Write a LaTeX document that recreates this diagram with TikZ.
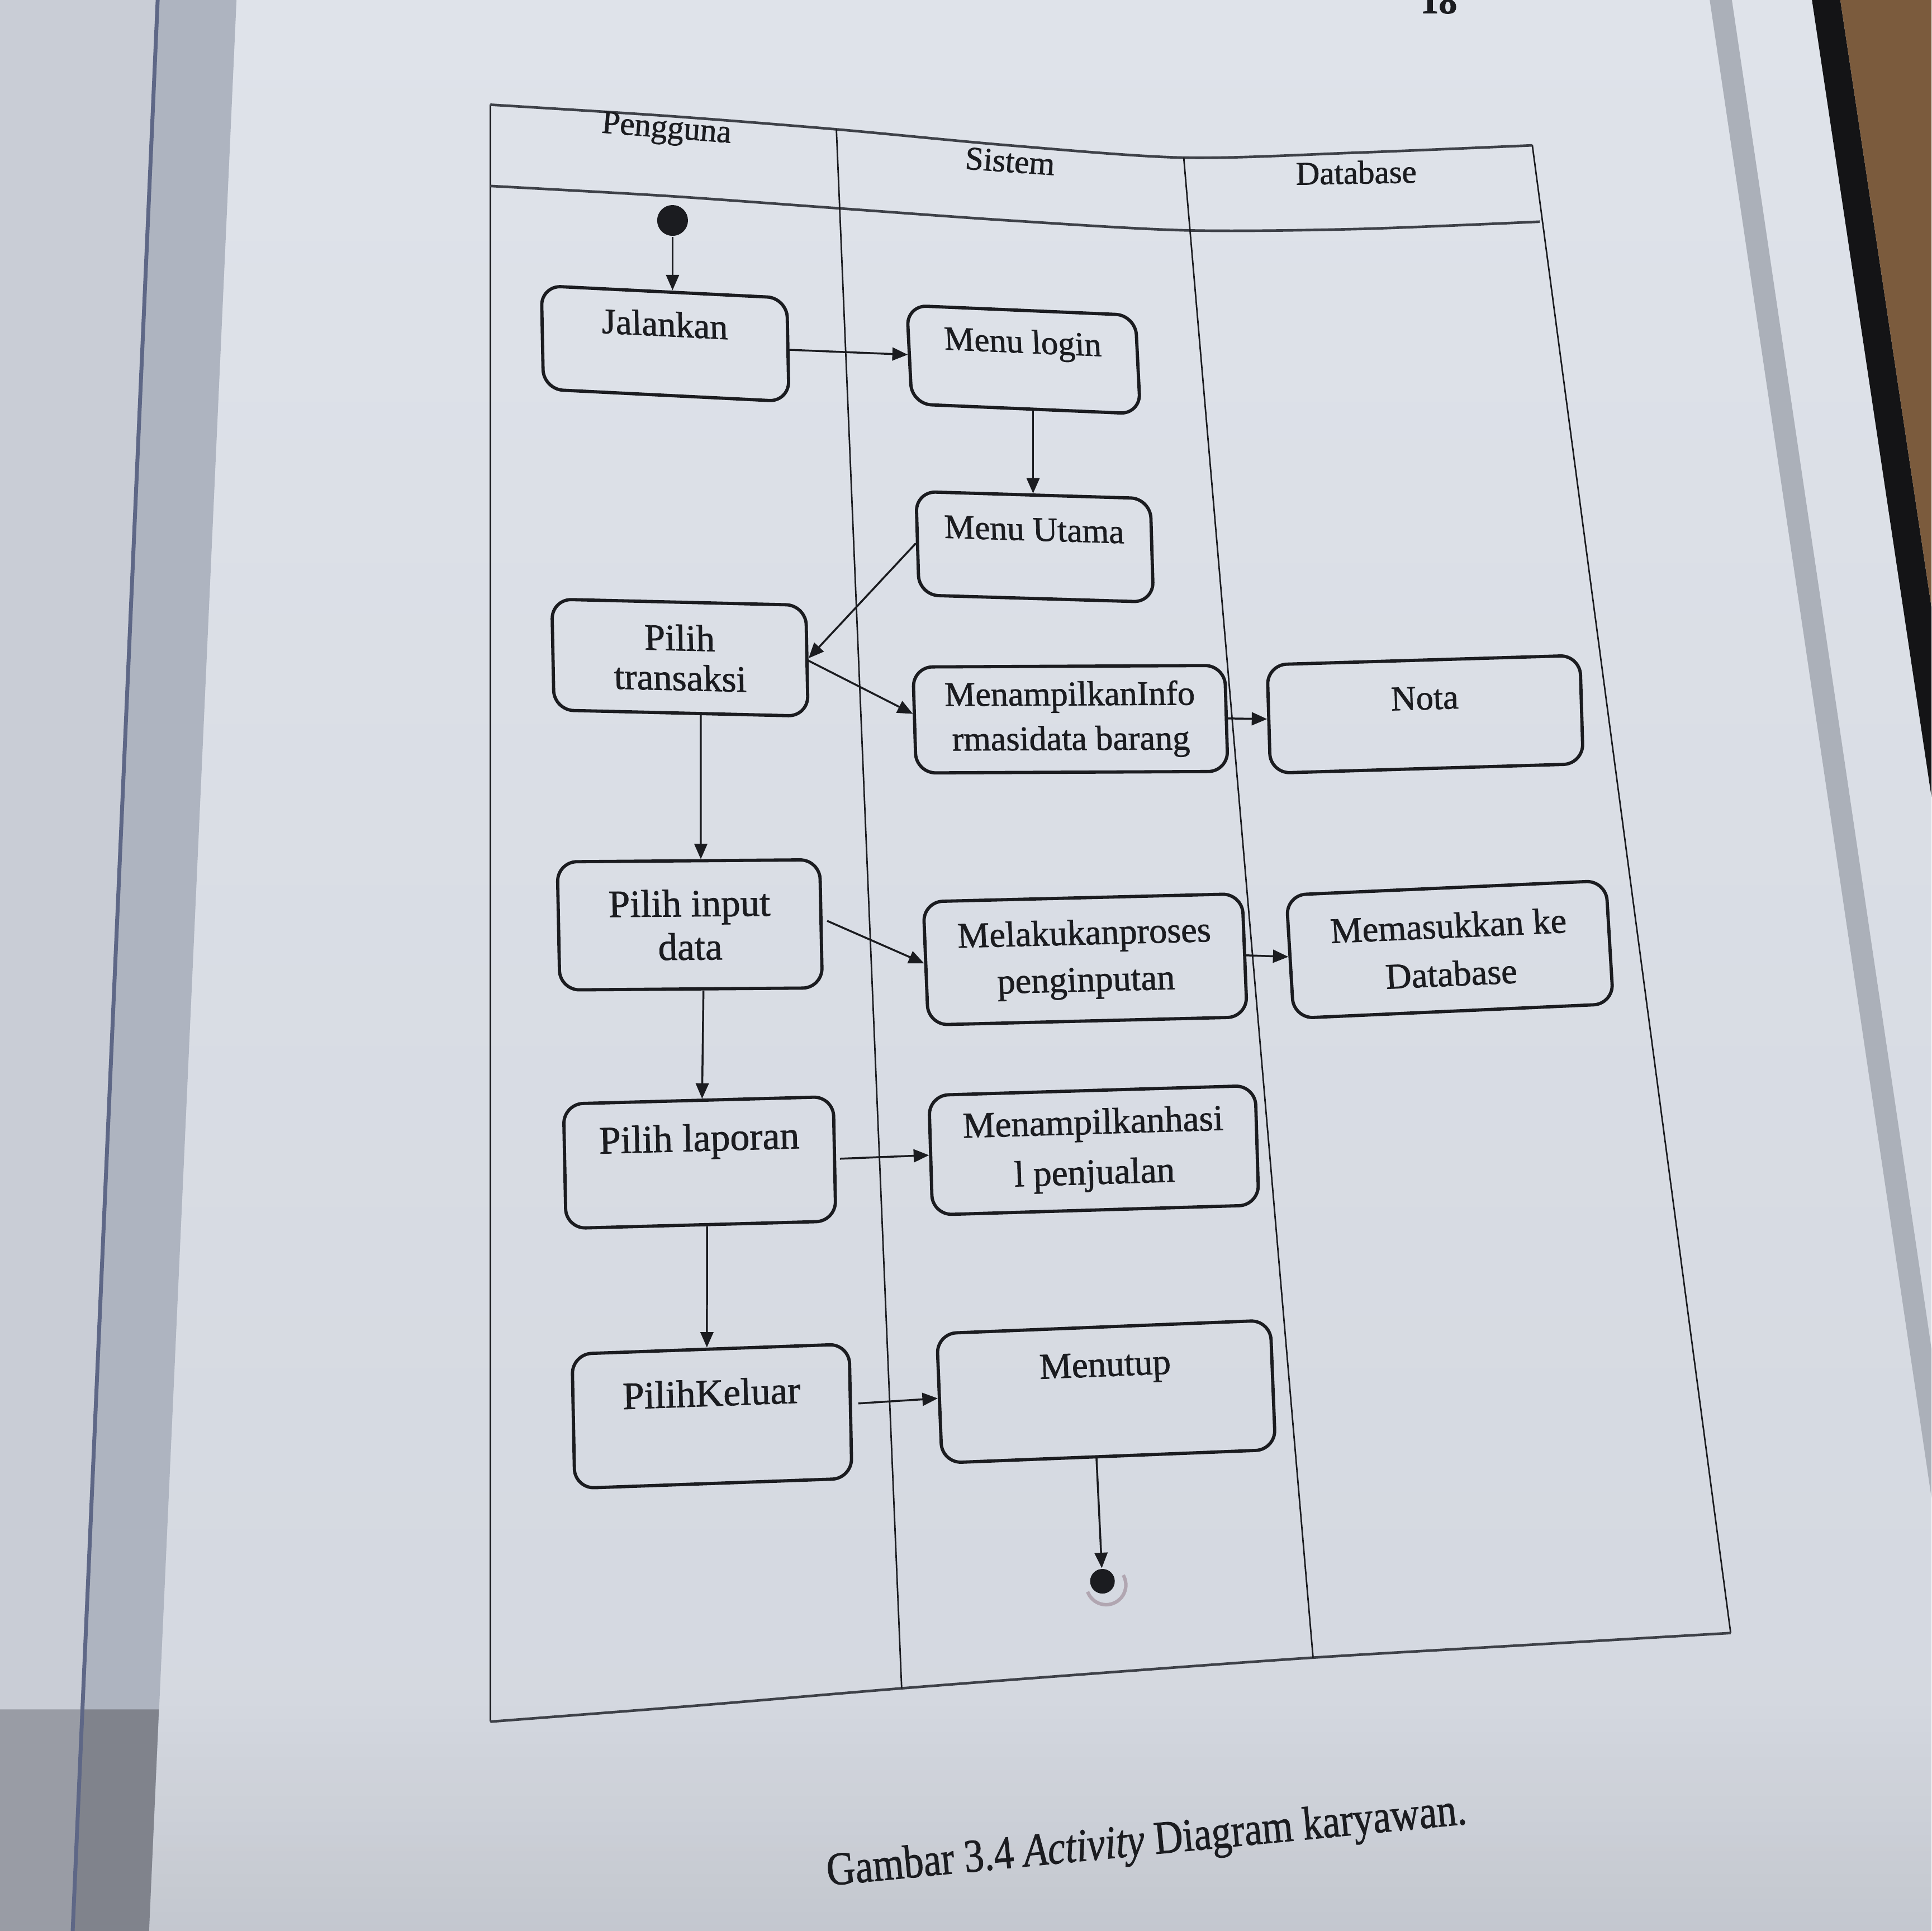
\documentclass[tikz,border=0pt]{standalone}
\usepackage{fontspec}
\setmainfont{Liberation Serif}
\newfontfamily\printfont{Liberation Serif}[FakeBold=1.2]
\usetikzlibrary{arrows.meta,fadings}
\definecolor{ink}{HTML}{1B1C20}
\definecolor{papertop}{HTML}{DFE3EA}
\definecolor{paperbot}{HTML}{D3D7DF}
\definecolor{leftpage}{HTML}{C9CDD6}
\definecolor{gutter}{HTML}{AEB4C0}
\definecolor{gutterline}{HTML}{5E6786}
\definecolor{leftshadow}{HTML}{999CA5}
\definecolor{guttershadow}{HTML}{80838C}
\definecolor{edgeband}{HTML}{ABB0B9}
\definecolor{cover}{HTML}{141416}
\definecolor{wood}{HTML}{7B5B3D}
\definecolor{rulegrey}{HTML}{3E4148}
\definecolor{ringtone}{HTML}{A89AA6}
\newcommand\boxfont[2]{\printfont\fontsize{#1pt}{#2pt}\selectfont}
\newcommand\liftlabel[2]{\raisebox{#1}[\height][\depth]{#2}}

\begin{document}
\begin{tikzpicture}[x=0.01cm, y=-0.01cm,
  act/.style={draw=ink, line width=0.75pt, rounded corners=0.16cm, align=center, inner sep=0pt, text=ink},
  flow/.style={draw=ink, line width=0.45pt, -{Triangle[length=1.25mm,width=1.05mm]}},
  lane/.style={draw=ink, line width=0.35pt},
  hline/.style={draw=rulegrey, line width=0.6pt},
  hdrtext/.style={text=ink, font=\boxfont{7.6}{9}},
  dot/.style={circle, fill=ink, inner sep=0pt},
]
\useasboundingbox (0,0) rectangle (1568,1568);
\clip (0,0) rectangle (1568,1568);

% paper, neighbouring page and book edge
\shade[top color=papertop, bottom color=paperbot] (0,0) rectangle (1568,1568);
\fill[black, opacity=0.07, path fading=north] (0,1380) rectangle (1568,1568);
\fill[leftpage] (0,0) -- (128,0) -- (59,1568) -- (0,1568) -- cycle;
\fill[gutter] (128,0) -- (192,0) -- (121,1568) -- (59,1568) -- cycle;
\fill[leftshadow] (0,1388) -- (67,1388) -- (59,1568) -- (0,1568) -- cycle;
\fill[guttershadow] (67,1388) -- (129,1388) -- (121,1568) -- (59,1568) -- cycle;
\draw[gutterline, line width=0.9pt] (128,0) -- (59,1568);
\fill[edgeband] (1388,0) -- (1406,0) -- (1568,1095) -- (1568,1216) -- cycle;
\fill[cover] (1471,0) -- (1494,0) -- (1568,493) -- (1568,647) -- cycle;
\fill[wood] (1494,0) -- (1568,0) -- (1568,493) -- cycle;

\node[text=ink, font=\boxfont{8.5}{9}\bfseries] (pagenum) at (1168,1) {18};

% swimlane frame
\draw[lane] (398,85) -- (398,1398);
\draw[lane] (1244,118) -- (1405,1326);
\draw[hline] plot[smooth] coordinates {(398,85) (540,94) (679,105) (819,118) (961,128) (1100,124) (1244,118)};
\draw[hline] plot[smooth] coordinates {(398,151) (540,159) (679,169) (819,179) (962,187) (1100,186) (1250,180)};
\draw[hline] plot[smooth] coordinates {(398,1398) (565,1385) (731,1371) (900,1358) (1066,1346) (1235,1336) (1405,1326)};
\draw[lane] (679,105) -- (732,1371);
\draw[lane] (961,128) -- (1066,1346);

\node[hdrtext, rotate=-4.5] (hpeng) at (541,106) {Pengguna};
\node[hdrtext, rotate=-4] (hsis) at (820,131) {Sistem};
\node[hdrtext, rotate=1] (hdb) at (1101,140) {Database};

% activities
\node[dot, minimum size=0.25cm] (start) at (546,179) {};
\node[act, minimum width=1.99cm, minimum height=0.84cm, xslant=-0.02, yslant=-0.05, font=\boxfont{8.3}{10}] (jal) at (540,279) {\liftlabel{0.16cm}{Jalankan}};
\node[act, minimum width=1.85cm, minimum height=0.80cm, xslant=-0.05, yslant=-0.043, font=\boxfont{7.8}{9.5}] (ml) at (831,292) {\liftlabel{0.12cm}{Menu login}};
\node[act, minimum width=1.90cm, minimum height=0.84cm, xslant=-0.03, yslant=-0.03, font=\boxfont{7.9}{9.5}] (mu) at (840,444) {\liftlabel{0.14cm}{Menu Utama}};
\node[act, minimum width=2.06cm, minimum height=0.90cm, xslant=-0.02, yslant=-0.024, font=\boxfont{8.6}{9.2}] (pt) at (552,534) {Pilih\\transaksi};
\node[act, minimum width=2.53cm, minimum height=0.86cm, xslant=-0.03, yslant=0.005, font=\boxfont{8.0}{10.3}] (mi) at (869,584) {MenampilkanInfo\\rmasidata barang};
\node[act, minimum width=2.54cm, minimum height=0.88cm, xslant=-0.03, yslant=0.03, font=\boxfont{8.0}{9.5}] (nota) at (1157,580) {\liftlabel{0.13cm}{Nota}};
\node[act, minimum width=2.13cm, minimum height=1.04cm, xslant=-0.02, yslant=0.008, font=\boxfont{8.9}{10}] (pi) at (560,751) {Pilih input\\data};
\node[act, minimum width=2.59cm, minimum height=1.00cm, xslant=-0.04, yslant=0.025, font=\boxfont{8.3}{10.8}] (mp) at (881,779) {Melakukanproses\\penginputan};
\node[act, minimum width=2.60cm, minimum height=1.00cm, xslant=-0.06, yslant=0.045, font=\boxfont{8.3}{11.1}] (md) at (1177,771) {Memasukkan ke\\Database};
\node[act, minimum width=2.19cm, minimum height=1.01cm, xslant=-0.02, yslant=0.027, font=\boxfont{9.0}{10}] (pl) at (568,944) {\liftlabel{0.17cm}{Pilih laporan}};
\node[act, minimum width=2.65cm, minimum height=0.97cm, xslant=-0.03, yslant=0.03, font=\boxfont{8.4}{11.6}] (mh) at (888,934) {Menampilkanhasi\\l penjualan};
\node[act, minimum width=2.25cm, minimum height=1.09cm, xslant=-0.02, yslant=0.036, font=\boxfont{8.9}{10}] (pk) at (578,1150) {\liftlabel{0.19cm}{PilihKeluar}};
\node[act, minimum width=2.71cm, minimum height=1.05cm, xslant=-0.04, yslant=0.04, font=\boxfont{8.4}{10}] (mt) at (898,1130) {\liftlabel{0.19cm}{Menutup}};
\node[dot, minimum size=0.20cm] (fin) at (895,1284) {};
\draw[ringtone, line width=0.8pt, opacity=0.8] ([shift={(0.03cm,-0.03cm)}]fin.center) ++(200:0.16cm) arc[start angle=200, end angle=390, radius=0.16cm];

% control flow
\draw[flow] (start) -- (start |- jal.north);
\draw[flow] (jal.east) -- (ml.west);
\draw[flow] (ml.south -| mu.north) -- (mu.north);
\draw[flow] (mu.west) -- ([yshift=0.02cm]pt.east);
\draw[flow] (pt.east) -- ([yshift=0.05cm]mi.west);
\draw[flow] (mi.east) -- (nota.west);
\draw[flow] ([xshift=0.16cm]pt.south) -- ([xshift=0.1cm]pi.north);
\draw[flow, shorten <=0.04cm] ([yshift=0.04cm]pi.east) -- (mp.west);
\draw[flow] (mp.east) -- (md.west);
\draw[flow] ([xshift=0.1cm]pi.south) -- ([xshift=0.03cm]pl.north);
\draw[flow, shorten <=0.03cm] (pl.east) -- (mh.west);
\draw[flow] ([xshift=0.05cm]pl.south) -- ([xshift=-0.03cm]pk.north);
\draw[flow, shorten <=0.05cm] ([yshift=0.06cm]pk.east) -- (mt.west);
\draw[flow] ([xshift=-0.1cm]mt.south) -- (fin);

% caption
\node[text=ink, font=\boxfont{10.8}{13}, rotate=5.5, xscale=0.85] (caption) at (931,1497) {Gambar 3.4 \textit{Activity} Diagram karyawan.};
\end{tikzpicture}
\end{document}
